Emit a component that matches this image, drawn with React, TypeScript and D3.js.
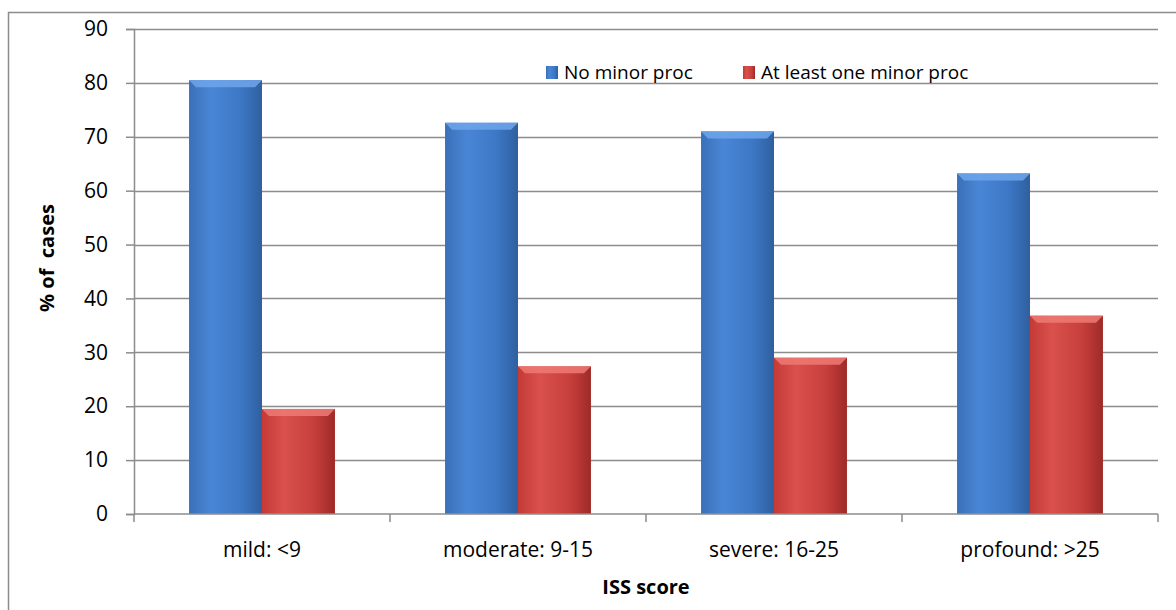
import React, { useEffect, useRef } from 'react'
import { scaleBand, scaleLinear, select, axisLeft, range } from 'd3';

const categories = ['mild: <9', 'moderate: 9-15', 'severe: 16-25', 'profound: >25'];
const seriesNames = ['No minor proc', 'At least one minor proc'];
const noMinor = [80.5, 72.6, 71.0, 63.2];
const atLeastOne = [19.5, 27.4, 29.0, 36.8];
const yTicks = [0, 10, 20, 30, 40, 50, 60, 70, 80, 90];

const FONT = '"Open Sans", "Noto Sans", sans-serif';

const App = () => {
    const chartRef = useRef<SVGSVGElement>(null);

    useEffect(() => {
        const width = 1176;
        const height = 610;
        const margin = { top: 29, right: 18, bottom: 96, left: 134 };

        const svg = select(chartRef.current);
        svg.selectAll('*').remove();

        const defs = svg.append('defs');
        const grads = [
            { id: 'gBlue', stops: ['#3a70b8', '#4a86d6', '#3d78c6', '#2f5f9f'] },
            { id: 'gRed', stops: ['#c33a37', '#d9504c', '#c8403d', '#9e2a28'] },
        ];
        grads.forEach(g => {
            const lg = defs.append('linearGradient').attr('id', g.id)
                .attr('x1', '0').attr('x2', '1').attr('y1', '0').attr('y2', '0');
            g.stops.forEach((c, i) => lg.append('stop')
                .attr('offset', `${[0, 0.3, 0.7, 1][i] * 100}%`).attr('stop-color', c));
        });

        // outer chart frame (only top and left visible)
        svg.append('path')
            .attr('d', `M8.5,${height} V12.5 H${width}`)
            .attr('fill', 'none').attr('stroke', '#8c8c8c').attr('stroke-width', 1.5);

        const x = scaleBand()
            .domain(categories)
            .range([margin.left, width - margin.right])
            .paddingInner(0.43)
            .paddingOuter(0.215);

        const x1 = scaleBand()
            .domain(seriesNames)
            .range([0, x.bandwidth()]);

        const y = scaleLinear()
            .domain([0, 90])
            .range([height - margin.bottom, margin.top]);

        // gridlines
        svg.append('g')
            .selectAll('line')
            .data(yTicks.filter(d => d > 0))
            .enter()
            .append('line')
            .attr('x1', margin.left)
            .attr('x2', width - margin.right)
            .attr('y1', d => Math.round(y(d)) + 0.5)
            .attr('y2', d => Math.round(y(d)) + 0.5)
            .attr('stroke', '#8c8c8c')
            .attr('stroke-width', 1.5);

        // y axis
        const yAxis = svg.append('g')
            .attr('transform', `translate(${margin.left}, 0)`)
            .call(axisLeft(y).tickValues(yTicks).tickSize(8).tickPadding(18));
        yAxis.select('.domain').attr('stroke', '#8c8c8c').attr('stroke-width', 1.5);
        yAxis.selectAll('.tick line').attr('stroke', '#8c8c8c').attr('stroke-width', 1.5);
        yAxis.selectAll('.tick text')
            .attr('font-family', FONT).attr('font-size', 21).attr('fill', '#000');

        // bars
        const seriesData = [noMinor, atLeastOne];
        seriesData.forEach((vals, si) => {
            const g = svg.append('g');
            g.selectAll('rect')
                .data(vals)
                .enter()
                .append('rect')
                .attr('x', (d, i) => (x(categories[i]) as number) + (x1(seriesNames[si]) as number))
                .attr('y', d => y(d))
                .attr('width', x1.bandwidth())
                .attr('height', d => y(0) - y(d))
                .attr('fill', si === 0 ? 'url(#gBlue)' : 'url(#gRed)');
            // top bevel
            g.selectAll('path')
                .data(vals)
                .enter()
                .append('path')
                .attr('d', (d, i) => {
                    const bx = (x(categories[i]) as number) + (x1(seriesNames[si]) as number);
                    const bw = x1.bandwidth();
                    const by = y(d);
                    return `M${bx},${by} H${bx + bw} L${bx + bw - 7},${by + 7} H${bx + 7} Z`;
                })
                .attr('fill', si === 0 ? '#6ea6ec' : '#ee7a74')
                .attr('opacity', 0.85);
        });

        // x axis line and ticks
        const xAxis = svg.append('g');
        xAxis.append('line')
            .attr('x1', margin.left).attr('x2', width - margin.right)
            .attr('y1', y(0)).attr('y2', y(0))
            .attr('stroke', '#8c8c8c').attr('stroke-width', 1.5);
        xAxis.selectAll('line.tk')
            .data(range(categories.length + 1))
            .enter()
            .append('line')
            .attr('class', 'tk')
            .attr('x1', i => margin.left + i * x.step())
            .attr('x2', i => margin.left + i * x.step())
            .attr('y1', y(0)).attr('y2', y(0) + 8)
            .attr('stroke', '#8c8c8c').attr('stroke-width', 1.5);
        xAxis.selectAll('text')
            .data(categories)
            .enter()
            .append('text')
            .attr('x', d => (x(d) as number) + x.bandwidth() / 2)
            .attr('y', y(0) + 43)
            .attr('text-anchor', 'middle')
            .attr('font-family', FONT).attr('font-size', 21)
            .text(d => d);

        // axis titles
        svg.append('text')
            .attr('x', 646).attr('y', 594)
            .attr('text-anchor', 'middle')
            .attr('font-family', FONT).attr('font-size', 20).attr('font-weight', 'bold')
            .text('ISS score');
        svg.append('text')
            .attr('transform', 'translate(54, 258) rotate(-90)')
            .attr('text-anchor', 'middle')
            .attr('font-family', FONT).attr('font-size', 20).attr('font-weight', 'bold')
            .style('white-space', 'pre')
            .text('% of  cases');

        // legend
        const legendX = [546, 743];
        const legend = svg.append('g');
        seriesNames.forEach((name, i) => {
            legend.append('rect')
                .attr('x', legendX[i]).attr('y', 66)
                .attr('width', 12).attr('height', 13)
                .attr('fill', i === 0 ? 'url(#gBlue)' : 'url(#gRed)');
            legend.append('text')
                .attr('x', legendX[i] + 18).attr('y', 79)
                .attr('font-family', FONT).attr('font-size', 19)
                .text(name);
        });
    }, [chartRef]);

    return (
        <svg ref={chartRef} width={1176} height={610}
            style={{ position: 'absolute', left: 0, top: 0, background: '#fff' }} />
    )
}

export default App
